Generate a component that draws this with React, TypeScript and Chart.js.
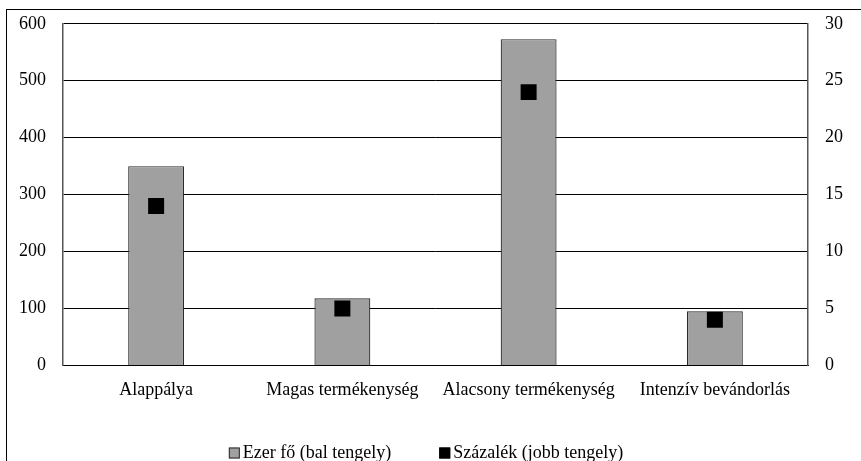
import React, { useEffect, useRef } from "react";
import { Chart, registerables } from "chart.js";

Chart.register(...registerables);

const categories = ["Alappálya", "Magas termékenység", "Alacsony termékenység", "Intenzív bevándorlás"];
const ezerFo = [350, 118, 573, 95];
const szazalek = [14, 5, 24, 4];
const leftTicks = [0, 100, 200, 300, 400, 500, 600];
const rightTicks = [0, 5, 10, 15, 20, 25, 30];

const FONT = "'Liberation Serif', 'DejaVu Serif', serif";
const FSIZE = 18;

const legendPlugin = {
  id: "customLegend",
  afterDraw(chart: any) {
    const ctx = chart.ctx;
    ctx.save();
    ctx.font = `${FSIZE}px ${FONT}`;
    ctx.textBaseline = "middle";
    ctx.fillStyle = "#000";
    const items = [...chart.data.datasets].reverse().map((d: any) => ({
      text: d.label,
      fill: d.backgroundColor,
      stroke: d.type === "bar" ? d.borderColor : d.backgroundColor,
    }));
    const box = 11, gap = 3, spacing = 48;
    const widths = items.map((it: any) => box + gap + ctx.measureText(it.text).width);
    const total = widths.reduce((a: number, b: number) => a + b, 0) + spacing * (items.length - 1);
    let x = 426 - total / 2;
    const y = chart.height - 8;
    items.forEach((it: any, i: number) => {
      ctx.fillStyle = it.fill;
      ctx.fillRect(x, y - box / 2, box, box);
      ctx.strokeStyle = it.stroke;
      ctx.lineWidth = 1;
      ctx.strokeRect(x + 0.5, y - box / 2 + 0.5, box - 1, box - 1);
      ctx.fillStyle = "#000";
      ctx.textAlign = "left";
      ctx.fillText(it.text, x + box + gap, y);
      x += widths[i] + spacing;
    });
    ctx.restore();
  },
};

export default function App() {
  const ref = useRef<HTMLCanvasElement | null>(null);
  useEffect(() => {
    if (!ref.current) return;
    const chart = new Chart(ref.current, {
      type: "bar",
      data: {
        labels: categories,
        datasets: [
          {
            type: "line",
            label: "Százalék (jobb tengely)",
            data: szazalek,
            yAxisID: "y1",
            showLine: false,
            pointStyle: "rect",
            pointRadius: 11.3,
            pointHoverRadius: 11.3,
            backgroundColor: "#000000",
            borderColor: "#000000",
            borderWidth: 0,
            order: 0,
          } as any,
          {
            type: "bar",
            label: "Ezer fő (bal tengely)",
            data: ezerFo,
            yAxisID: "y",
            backgroundColor: "#a0a0a0",
            borderColor: "#2a2a2a",
            borderWidth: 1.2,
            borderSkipped: "start",
            barPercentage: 0.3,
            categoryPercentage: 1,
            order: 1,
          },
        ],
      },
      plugins: [legendPlugin],
      options: {
        animation: false,
        responsive: false,
        maintainAspectRatio: false,
        layout: { padding: { left: 2, right: 1, top: 10, bottom: 46 } },
        plugins: {
          tooltip: { enabled: false },
          legend: { display: false },
        },
        scales: {
          x: {
            grid: { display: false, drawTicks: false },
            border: { display: true, color: "#000", width: 1 },
            ticks: { color: "#000", font: { family: FONT, size: FSIZE }, padding: 14, maxRotation: 0 },
          },
          y: {
            position: "left",
            min: 0,
            max: 600,
            afterBuildTicks: (axis: any) => { axis.ticks = leftTicks.map((v) => ({ value: v })); },
            grid: { color: "#000", lineWidth: 1, drawTicks: false },
            border: { display: true, color: "#555", width: 1.5 },
            ticks: { color: "#000", font: { family: FONT, size: FSIZE }, padding: 17 },
          },
          y1: {
            position: "right",
            min: 0,
            max: 30,
            afterBuildTicks: (axis: any) => { axis.ticks = rightTicks.map((v) => ({ value: v })); },
            grid: { display: false, drawTicks: false },
            border: { display: true, color: "#555", width: 1.5 },
            ticks: { color: "#000", font: { family: FONT, size: FSIZE }, padding: 17 },
          },
        },
      },
    });
    return () => chart.destroy();
  }, []);
  return (
    <div style={{ position: "fixed", left: 0, top: 0, width: 861, height: 461, overflow: "hidden", background: "#fff" }}>
      <div style={{ position: "absolute", left: 6, top: 9, width: 900, height: 500, border: "1px solid #000" }} />
      <canvas ref={ref} width={861} height={465} style={{ position: "absolute", left: 0, top: -4, width: 861, height: 465 }} />
    </div>
  );
}
